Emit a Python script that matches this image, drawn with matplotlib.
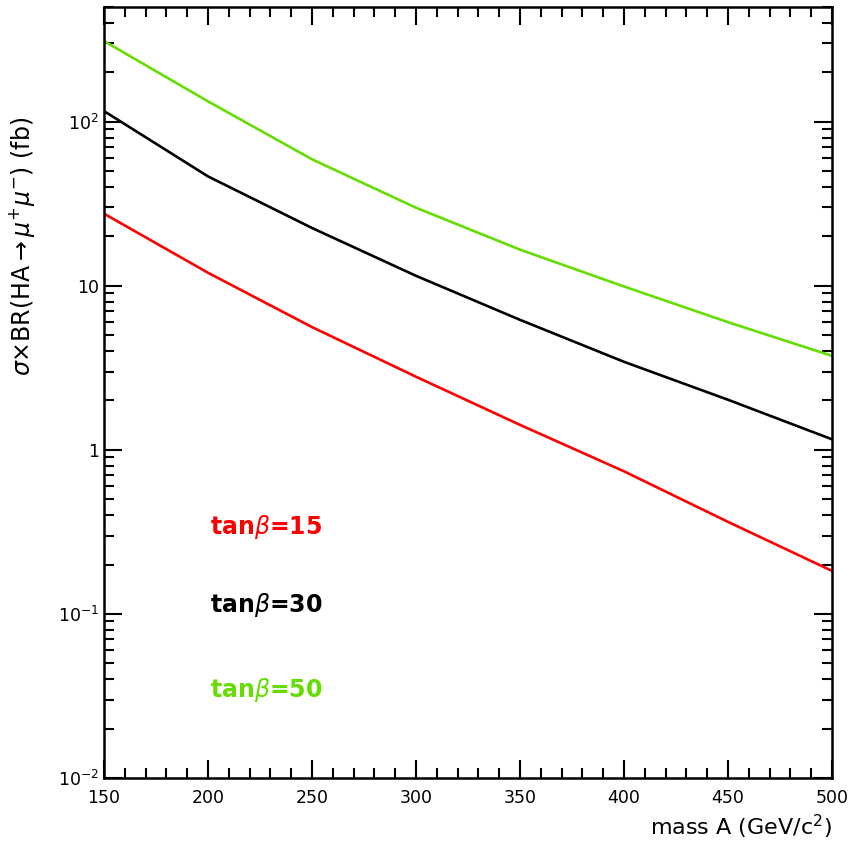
import numpy as np
import matplotlib
matplotlib.use("Agg")
import matplotlib.pyplot as plt
from matplotlib.ticker import MultipleLocator, FixedLocator, FixedFormatter, LogLocator

# mass A (GeV/c^2)
mass = [150, 200, 250, 300, 350, 400, 450, 500]
# sigma x BR(HA -> mu+ mu-) in fb
xs_tb15 = [27.5, 12.0, 5.6, 2.79, 1.42, 0.74, 0.364, 0.183]
xs_tb30 = [116, 46.4, 22.5, 11.5, 6.2, 3.44, 2.02, 1.16]
xs_tb50 = [310, 133, 59, 29.9, 16.6, 9.9, 6.0, 3.74]

labels = ["tan$\\beta$=15", "tan$\\beta$=30", "tan$\\beta$=50"]
colors = ["#ff0000", "#000000", "#66dd00"]

ytick_vals = [1e-2, 1e-1, 1, 10, 100]
ytick_labels = ["$10^{-2}$", "$10^{-1}$", "1", "10", "$10^{2}$"]

plt.rcParams['font.family'] = ['DejaVu Sans']
fig = plt.figure(figsize=(8.54, 8.43), dpi=100)
ax = fig.add_axes([0.1218, 0.0771, 0.8524, 0.9146])

for ys, c in zip([xs_tb15, xs_tb30, xs_tb50], colors):
    ax.plot(mass, ys, color=c, lw=1.9)

ax.set_yscale('log')
ax.set_xlim(150, 500)
ax.set_ylim(1e-2, 500)

ax.xaxis.set_major_locator(MultipleLocator(50))
ax.xaxis.set_minor_locator(MultipleLocator(10))
ax.yaxis.set_major_locator(FixedLocator(ytick_vals))
ax.yaxis.set_major_formatter(FixedFormatter(ytick_labels))
ax.yaxis.set_minor_locator(LogLocator(base=10, subs=np.arange(2, 10)))
ax.yaxis.set_minor_formatter(plt.NullFormatter())

ax.tick_params(which='both', direction='in', top=True, right=True, width=1.5,
               labelsize=12.5)
ax.tick_params(which='major', length=13)
ax.tick_params(which='minor', length=7)
ax.tick_params(axis='x', pad=8)
for s in ax.spines.values():
    s.set_linewidth(1.8)

ax.set_ylabel("$\\sigma$×BR(HA$\\rightarrow\\mu^{+}\\mu^{-}$) (fb)", fontsize=17)
ax.yaxis.set_label_coords(-0.092, 0.69)
ax.set_xlabel("mass A (GeV/c$^{2}$)", fontsize=16, ha='right')
ax.xaxis.set_label_coords(1.0, -0.045)

for lab, c, yy in zip(labels, colors, [0.326, 0.224, 0.114]):
    ax.text(0.146, yy, lab, color=c, fontsize=17, fontweight='bold',
            transform=ax.transAxes, va='center', ha='left')

fig.savefig("out.png", dpi=100)
